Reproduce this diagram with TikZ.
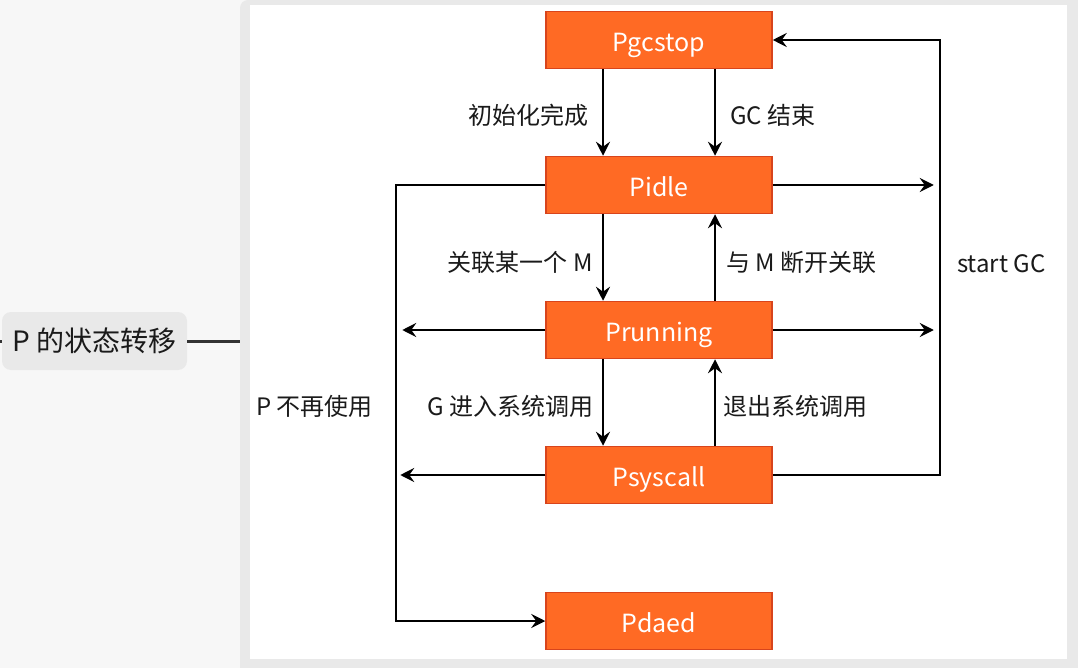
\documentclass[tikz,border=0pt]{standalone}
\usepackage{fontspec}
\setmainfont{Noto Sans CJK SC}
\usetikzlibrary{arrows.meta,calc}
\definecolor{pbox}{HTML}{FF6A24}
\definecolor{pboxline}{HTML}{D8441C}
\definecolor{panelgray}{HTML}{E9E9E9}
\definecolor{leftbg}{HTML}{F7F7F7}
\definecolor{txt}{HTML}{1A1A1A}
\tikzset{
  state/.style={draw=pboxline, line width=1.5pt, fill=pbox, minimum width=226pt, minimum height=57pt, inner sep=0pt, text=white, text height=23pt, text depth=0pt, font=\fontsize{25}{28}\selectfont},
  lbl/.style={text=txt, inner sep=0pt, font=\fontsize{24}{28}\selectfont},
  conn/.style={line width=2.4pt, draw=black, -{Stealth[length=14pt,width=14pt,inset=5pt]}},
}
\begin{document}
\begin{tikzpicture}[x=1pt,y=-1pt]
\useasboundingbox (0,0) rectangle (1078,668);
\fill[leftbg] (0,0) rectangle (1078,668);
\fill[panelgray, rounded corners=8pt] (240,0) rectangle (1090,680);
\fill[white] (250,5) rectangle (1067,659);
% left topic label
\node[fill=panelgray, rounded corners=9pt, minimum width=185pt, minimum height=58pt, inner sep=0pt, text=txt, font=\fontsize{28}{32}\selectfont] (topic) at (94.5,341) {P 的状态转移};
\coordinate (panelL) at (240,341);
\coordinate (edgeL) at (0,341);
\draw[line width=3pt, draw=black!80] (topic.east) -- (panelL);
\draw[line width=3pt, draw=black!80] (edgeL) -- (topic.west);
% states
\node[state] (gc) at (659,40) {Pgcstop};
\node[state] (idle) at (659,185) {Pidle};
\node[state] (run) at (659,330) {Prunning};
\node[state] (sys) at (659,475) {Psyscall};
\node[state] (dead) at (659,621) {Pdaed};
% vertical transitions
\draw[conn] ([xshift=-56pt]gc.south) -- ([xshift=-56pt]idle.north);
\draw[conn] ([xshift=56pt]gc.south) -- ([xshift=56pt]idle.north);
\draw[conn] ([xshift=-56pt]idle.south) -- ([xshift=-56pt]run.north);
\draw[conn] ([xshift=56pt]run.north) -- ([xshift=56pt]idle.south);
\draw[conn] ([xshift=-56pt]run.south) -- ([xshift=-56pt]sys.north);
\draw[conn] ([xshift=56pt]sys.north) -- ([xshift=56pt]run.south);
% right: start GC loop
\coordinate (rtop) at (940,40);
\draw[conn] (sys.east) -| (rtop) -- (gc.east);
\draw[conn] (idle.east) -- ++(161,0);
\draw[conn] (run.east) -- ++(161,0);
% left: P no longer used
\draw[conn] (idle.west) -- ++(-149,0) |- (dead.west);
\draw[conn] (run.west) -- ++(-143,0);
\draw[conn] (sys.west) -- ++(-145,0);
% labels
\node[lbl, anchor=east] (l1) at (589,115) {初始化完成};
\node[lbl, anchor=west] (l2) at (730,115) {GC 结束};
\node[lbl, anchor=east] (l3) at (593,262) {关联某一个 M};
\node[lbl, anchor=west] (l4) at (726,262) {与 M 断开关联};
\node[lbl, anchor=west] (l5) at (957,264) {start GC};
\node[lbl, anchor=west] (l6) at (256,406) {P 不再使用};
\node[lbl, anchor=east] (l7) at (594,406) {G 进入系统调用};
\node[lbl, anchor=west] (l8) at (723,406) {退出系统调用};
\end{tikzpicture}
\end{document}
